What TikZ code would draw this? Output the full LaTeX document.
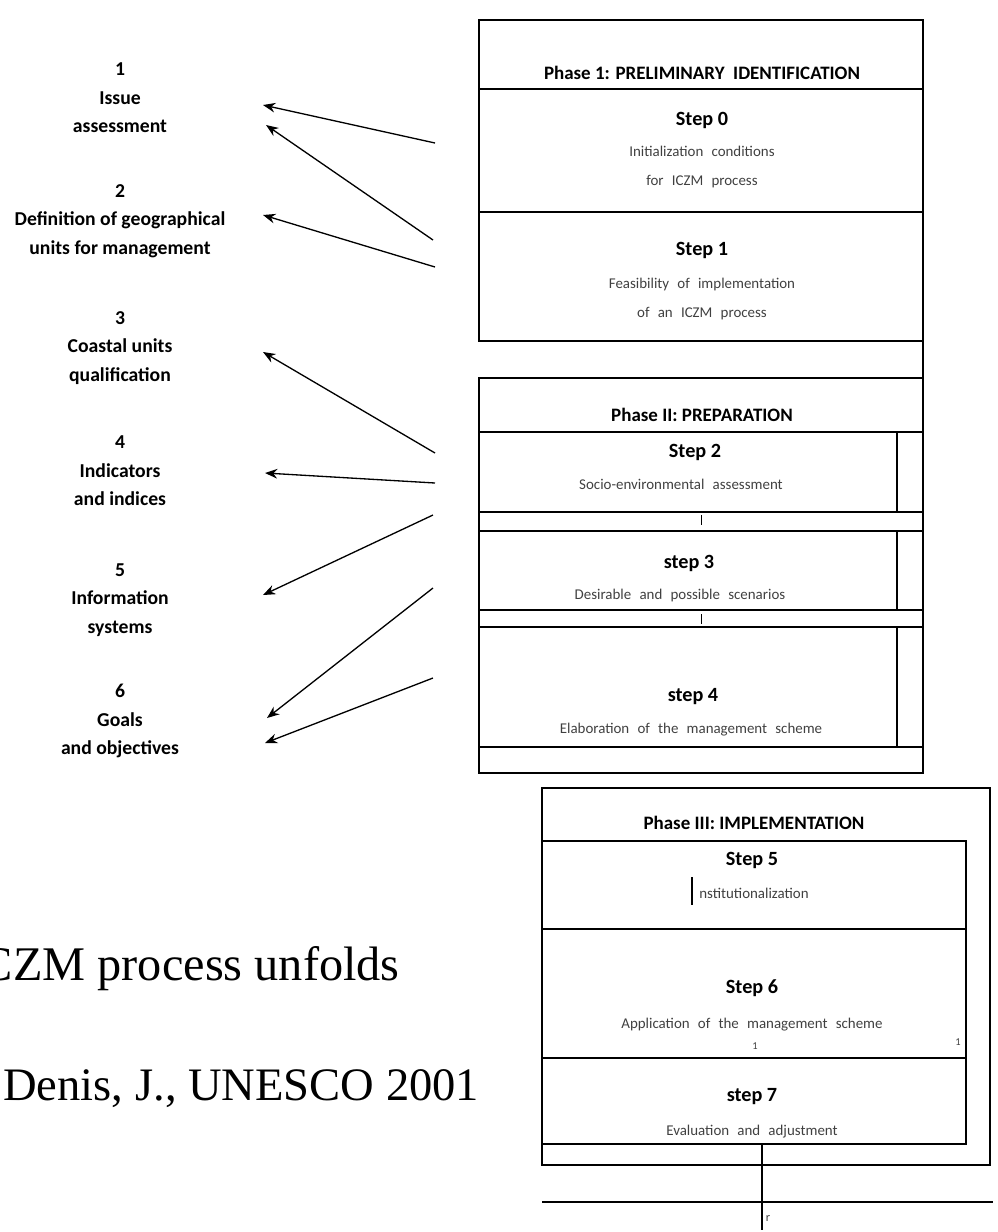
\documentclass[tikz,border=0pt]{standalone}
\usepackage{fontspec}
\setmainfont{Liberation Serif}
\newfontfamily\calib{Carlito}
\newcommand\notefont{\calib\fontsize{8.5}{16.4}\selectfont\spaceskip 0.55em plus 0.1em\relax}
\usetikzlibrary{arrows.meta}
\tikzset{pointer/.style = {line width=0.75pt, -{Stealth[length=7pt,width=5.5pt]}},
         frame/.style = {line width=0.8pt},
         phasehead/.style = {font=\calib\bfseries\fontsize{10.8}{13}\selectfont},
         steptitle/.style = {font=\calib\bfseries\fontsize{11.5}{14}\selectfont},
         stepnote/.style = {align=center, text=black!75, font=\notefont},
         issue/.style = {align=center, font=\calib\bfseries\fontsize{11.2}{16.2}\selectfont},
         caption/.style = {font=\fontsize{26.5}{30}\selectfont}}

\begin{document}
\begin{tikzpicture}[x=0.02cm, y=-0.02cm]
\useasboundingbox (0,0) rectangle (998,1232);
% Phase I frame
\draw [frame] (479,20) rectangle (923,341);
\draw [frame] (923,341) -- (923,378);
\draw [frame] (479,89) -- (923,89);
\draw [frame] (479,212) -- (923,212);
% Phase II frame
\draw [frame] (479,378) rectangle (923,773);
\foreach \y in {432,512,531,610,627,747}
  \draw [frame] (479,\y) -- (923,\y);
\draw [frame] (897,432) -- (897,512);
\draw [frame] (897,531) -- (897,610);
\draw [frame] (897,627) -- (897,747);
\draw (701,515) -- (701,525);
\draw (701,614) -- (701,624);
% Phase III frame
\draw [frame] (542,788) rectangle (990,1165);
\draw [frame] (542,841) rectangle (966,1144);
\draw [frame] (542,929) -- (966,929);
\draw [frame] (542,1058) -- (966,1058);
\draw [frame] (762,1144) -- (762,1230);
\draw [frame] (542,1202) -- (993,1202);
\draw [line width=1.4pt] (692,877) -- (692,905);

% texts in the boxes
\node [phasehead] (ph1) at (702,73) {Phase 1: PRELIMINARY\ \ IDENTIFICATION};
\node [steptitle] (st0) at (702,120) {Step 0};
\node [stepnote] (nt0) at (702,167) {Initialization conditions\\for ICZM process};
\node [steptitle] (st1) at (702,250) {Step 1};
\node [stepnote] (nt1) at (702,299) {Feasibility of implementation\\of an ICZM process};
\node [phasehead] (ph2) at (702,415) {Phase II: PREPARATION};
\node [steptitle] (st2) at (695,452) {Step 2};
\node [stepnote] (nt2) at (681,484) {Socio-environmental assessment};
\node [steptitle] (st3) at (689,563) {step 3};
\node [stepnote] (nt3) at (680,596) {Desirable and possible scenarios};
\node [steptitle] (st4) at (693,697) {step 4};
\node [stepnote] (nt4) at (691,730) {Elaboration of the management scheme};
\node [phasehead] (ph3) at (754,823) {Phase III: IMPLEMENTATION};
\node [steptitle] (st5) at (752,860) {Step 5};
\node [stepnote] (nt5) at (754,893) {nstitutionalization};
\node [steptitle] (st6) at (752,988) {Step 6};
\node [stepnote] (nt6) at (752,1025) {Application of the management scheme};
\node [stepnote, font=\calib\fontsize{6}{7}\selectfont] (mk1) at (755,1046) {1};
\node [stepnote, font=\calib\fontsize{6}{7}\selectfont] (mk2) at (958,1042) {1};
\node [steptitle] (st7) at (752,1097) {step 7};
\node [stepnote] (nt7) at (752,1132) {Evaluation and adjustment};
\node [stepnote, font=\calib\fontsize{7}{8}\selectfont] (mk3) at (768,1218) {r};

% left column
\node [issue] (iss1) at (120,98) {1\\Issue\\assessment};
\node [issue] (iss2) at (120,221) {2\\Definition of geographical\\units for management};
\node [issue] (iss3) at (120,348) {3\\Coastal units\\qualification};
\node [issue] (iss4) at (120,471) {4\\Indicators\\and indices};
\node [issue] (iss5) at (120,600) {5\\Information\\systems};
\node [issue] (iss6) at (120,721) {6\\Goals\\and objectives};

% arrows
\foreach \n/\tx/\ty/\hx/\hy in {1/435/143/263/105, 2/433/240/266/125, 3/435/267/263/215,
    4/435/453/263/352, 5/435/483/265/473, 6/433/515/263/595, 7/433/588/267/718,
    8/433/678/265/743}{
  \coordinate (tail\n) at (\tx,\ty);
  \coordinate (head\n) at (\hx,\hy);
  \draw [pointer] (tail\n) -- (head\n);
}

% caption
\node [caption, anchor=base east, inner sep=0pt, font=\fontsize{27.5}{30}\selectfont] (cap1) at (400,980) {CZM process unfolds};
\node [caption, anchor=base west, inner sep=0pt] (cap2) at (3,1100) {Denis, J., UNESCO 2001};
\end{tikzpicture}
\end{document}
